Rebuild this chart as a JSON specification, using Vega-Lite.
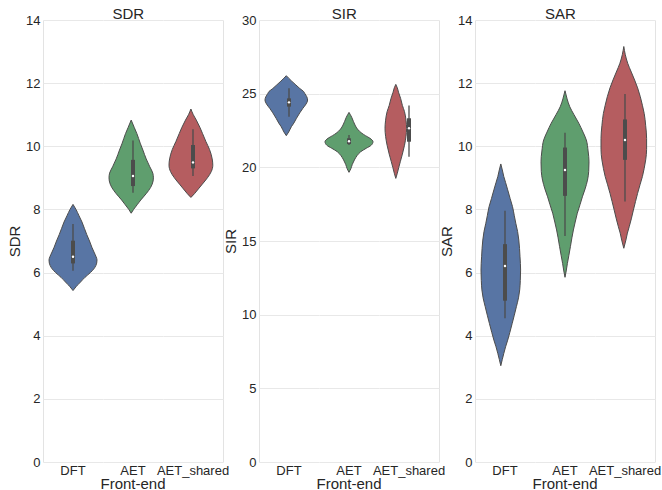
{
  "$schema": "https://vega.github.io/schema/vega-lite/v6.json",
  "background": "white",
  "padding": {"left": 7, "top": 7, "right": 0, "bottom": 0},
  "spacing": -7,
  "data": {"values": [
    {"m":"SDR","g":"DFT","v":5.43,"w":0},{"m":"SDR","g":"DFT","v":5.55,"w":0.1},{"m":"SDR","g":"DFT","v":5.7,"w":0.25},{"m":"SDR","g":"DFT","v":5.85,"w":0.4},{"m":"SDR","g":"DFT","v":6.0,"w":0.58},{"m":"SDR","g":"DFT","v":6.15,"w":0.72},{"m":"SDR","g":"DFT","v":6.3,"w":0.79},{"m":"SDR","g":"DFT","v":6.4,"w":0.8},{"m":"SDR","g":"DFT","v":6.5,"w":0.77},{"m":"SDR","g":"DFT","v":6.65,"w":0.7},{"m":"SDR","g":"DFT","v":6.8,"w":0.63},{"m":"SDR","g":"DFT","v":7.0,"w":0.55},{"m":"SDR","g":"DFT","v":7.2,"w":0.46},{"m":"SDR","g":"DFT","v":7.4,"w":0.38},{"m":"SDR","g":"DFT","v":7.6,"w":0.3},{"m":"SDR","g":"DFT","v":7.8,"w":0.2},{"m":"SDR","g":"DFT","v":8.0,"w":0.1},{"m":"SDR","g":"DFT","v":8.16,"w":0},
    {"m":"SDR","g":"AET","v":7.88,"w":0},{"m":"SDR","g":"AET","v":8.0,"w":0.08},{"m":"SDR","g":"AET","v":8.15,"w":0.2},{"m":"SDR","g":"AET","v":8.3,"w":0.32},{"m":"SDR","g":"AET","v":8.5,"w":0.5},{"m":"SDR","g":"AET","v":8.7,"w":0.65},{"m":"SDR","g":"AET","v":8.9,"w":0.73},{"m":"SDR","g":"AET","v":9.0,"w":0.74},{"m":"SDR","g":"AET","v":9.15,"w":0.72},{"m":"SDR","g":"AET","v":9.35,"w":0.62},{"m":"SDR","g":"AET","v":9.6,"w":0.5},{"m":"SDR","g":"AET","v":9.88,"w":0.39},{"m":"SDR","g":"AET","v":10.1,"w":0.3},{"m":"SDR","g":"AET","v":10.4,"w":0.19},{"m":"SDR","g":"AET","v":10.6,"w":0.1},{"m":"SDR","g":"AET","v":10.83,"w":0},
    {"m":"SDR","g":"AET_shared","v":8.38,"w":0},{"m":"SDR","g":"AET_shared","v":8.5,"w":0.12},{"m":"SDR","g":"AET_shared","v":8.65,"w":0.25},{"m":"SDR","g":"AET_shared","v":8.8,"w":0.38},{"m":"SDR","g":"AET_shared","v":9.0,"w":0.55},{"m":"SDR","g":"AET_shared","v":9.2,"w":0.68},{"m":"SDR","g":"AET_shared","v":9.4,"w":0.73},{"m":"SDR","g":"AET_shared","v":9.6,"w":0.71},{"m":"SDR","g":"AET_shared","v":9.9,"w":0.62},{"m":"SDR","g":"AET_shared","v":10.15,"w":0.5},{"m":"SDR","g":"AET_shared","v":10.4,"w":0.39},{"m":"SDR","g":"AET_shared","v":10.6,"w":0.3},{"m":"SDR","g":"AET_shared","v":10.83,"w":0.18},{"m":"SDR","g":"AET_shared","v":11.0,"w":0.08},{"m":"SDR","g":"AET_shared","v":11.18,"w":0},
    {"m":"SIR","g":"DFT","v":22.15,"w":0},{"m":"SIR","g":"DFT","v":22.4,"w":0.08},{"m":"SIR","g":"DFT","v":22.76,"w":0.17},{"m":"SIR","g":"DFT","v":23.0,"w":0.25},{"m":"SIR","g":"DFT","v":23.33,"w":0.34},{"m":"SIR","g":"DFT","v":23.7,"w":0.45},{"m":"SIR","g":"DFT","v":24.0,"w":0.55},{"m":"SIR","g":"DFT","v":24.3,"w":0.66},{"m":"SIR","g":"DFT","v":24.57,"w":0.71},{"m":"SIR","g":"DFT","v":24.8,"w":0.68},{"m":"SIR","g":"DFT","v":25.0,"w":0.62},{"m":"SIR","g":"DFT","v":25.14,"w":0.58},{"m":"SIR","g":"DFT","v":25.35,"w":0.45},{"m":"SIR","g":"DFT","v":25.59,"w":0.32},{"m":"SIR","g":"DFT","v":25.85,"w":0.18},{"m":"SIR","g":"DFT","v":26.05,"w":0.08},{"m":"SIR","g":"DFT","v":26.22,"w":0},
    {"m":"SIR","g":"AET","v":19.66,"w":0},{"m":"SIR","g":"AET","v":19.9,"w":0.06},{"m":"SIR","g":"AET","v":20.2,"w":0.11},{"m":"SIR","g":"AET","v":20.5,"w":0.18},{"m":"SIR","g":"AET","v":20.8,"w":0.27},{"m":"SIR","g":"AET","v":21.06,"w":0.39},{"m":"SIR","g":"AET","v":21.3,"w":0.58},{"m":"SIR","g":"AET","v":21.5,"w":0.74},{"m":"SIR","g":"AET","v":21.74,"w":0.8},{"m":"SIR","g":"AET","v":21.97,"w":0.7},{"m":"SIR","g":"AET","v":22.15,"w":0.55},{"m":"SIR","g":"AET","v":22.31,"w":0.43},{"m":"SIR","g":"AET","v":22.6,"w":0.28},{"m":"SIR","g":"AET","v":22.87,"w":0.2},{"m":"SIR","g":"AET","v":23.1,"w":0.15},{"m":"SIR","g":"AET","v":23.4,"w":0.09},{"m":"SIR","g":"AET","v":23.73,"w":0},
    {"m":"SIR","g":"AET_shared","v":19.25,"w":0},{"m":"SIR","g":"AET_shared","v":19.6,"w":0.05},{"m":"SIR","g":"AET_shared","v":20.0,"w":0.1},{"m":"SIR","g":"AET_shared","v":20.38,"w":0.15},{"m":"SIR","g":"AET_shared","v":20.9,"w":0.22},{"m":"SIR","g":"AET_shared","v":21.5,"w":0.29},{"m":"SIR","g":"AET_shared","v":22.1,"w":0.34},{"m":"SIR","g":"AET_shared","v":22.65,"w":0.36},{"m":"SIR","g":"AET_shared","v":23.2,"w":0.34},{"m":"SIR","g":"AET_shared","v":23.78,"w":0.29},{"m":"SIR","g":"AET_shared","v":24.2,"w":0.22},{"m":"SIR","g":"AET_shared","v":24.68,"w":0.16},{"m":"SIR","g":"AET_shared","v":25.1,"w":0.09},{"m":"SIR","g":"AET_shared","v":25.4,"w":0.05},{"m":"SIR","g":"AET_shared","v":25.63,"w":0},
    {"m":"SAR","g":"DFT","v":3.05,"w":0},{"m":"SAR","g":"DFT","v":3.25,"w":0.05},{"m":"SAR","g":"DFT","v":3.44,"w":0.1},{"m":"SAR","g":"DFT","v":3.65,"w":0.16},{"m":"SAR","g":"DFT","v":3.86,"w":0.23},{"m":"SAR","g":"DFT","v":4.1,"w":0.3},{"m":"SAR","g":"DFT","v":4.39,"w":0.38},{"m":"SAR","g":"DFT","v":4.65,"w":0.45},{"m":"SAR","g":"DFT","v":4.92,"w":0.52},{"m":"SAR","g":"DFT","v":5.2,"w":0.59},{"m":"SAR","g":"DFT","v":5.45,"w":0.63},{"m":"SAR","g":"DFT","v":5.75,"w":0.65},{"m":"SAR","g":"DFT","v":6.08,"w":0.66},{"m":"SAR","g":"DFT","v":6.5,"w":0.64},{"m":"SAR","g":"DFT","v":7.03,"w":0.6},{"m":"SAR","g":"DFT","v":7.3,"w":0.56},{"m":"SAR","g":"DFT","v":7.56,"w":0.5},{"m":"SAR","g":"DFT","v":7.8,"w":0.45},{"m":"SAR","g":"DFT","v":8.09,"w":0.39},{"m":"SAR","g":"DFT","v":8.35,"w":0.31},{"m":"SAR","g":"DFT","v":8.62,"w":0.23},{"m":"SAR","g":"DFT","v":8.85,"w":0.16},{"m":"SAR","g":"DFT","v":9.04,"w":0.1},{"m":"SAR","g":"DFT","v":9.25,"w":0.05},{"m":"SAR","g":"DFT","v":9.44,"w":0},
    {"m":"SAR","g":"AET","v":5.85,"w":0},{"m":"SAR","g":"AET","v":6.05,"w":0.04},{"m":"SAR","g":"AET","v":6.29,"w":0.08},{"m":"SAR","g":"AET","v":6.55,"w":0.13},{"m":"SAR","g":"AET","v":6.82,"w":0.18},{"m":"SAR","g":"AET","v":7.1,"w":0.23},{"m":"SAR","g":"AET","v":7.35,"w":0.28},{"m":"SAR","g":"AET","v":7.6,"w":0.34},{"m":"SAR","g":"AET","v":7.88,"w":0.41},{"m":"SAR","g":"AET","v":8.15,"w":0.5},{"m":"SAR","g":"AET","v":8.4,"w":0.58},{"m":"SAR","g":"AET","v":8.65,"w":0.67},{"m":"SAR","g":"AET","v":8.93,"w":0.75},{"m":"SAR","g":"AET","v":9.2,"w":0.79},{"m":"SAR","g":"AET","v":9.51,"w":0.8},{"m":"SAR","g":"AET","v":9.85,"w":0.77},{"m":"SAR","g":"AET","v":10.2,"w":0.71},{"m":"SAR","g":"AET","v":10.45,"w":0.6},{"m":"SAR","g":"AET","v":10.73,"w":0.46},{"m":"SAR","g":"AET","v":11.0,"w":0.3},{"m":"SAR","g":"AET","v":11.25,"w":0.16},{"m":"SAR","g":"AET","v":11.5,"w":0.07},{"m":"SAR","g":"AET","v":11.76,"w":0},
    {"m":"SAR","g":"AET_shared","v":6.77,"w":0},{"m":"SAR","g":"AET_shared","v":7.03,"w":0.07},{"m":"SAR","g":"AET_shared","v":7.25,"w":0.12},{"m":"SAR","g":"AET_shared","v":7.45,"w":0.18},{"m":"SAR","g":"AET_shared","v":7.7,"w":0.25},{"m":"SAR","g":"AET_shared","v":7.98,"w":0.32},{"m":"SAR","g":"AET_shared","v":8.25,"w":0.39},{"m":"SAR","g":"AET_shared","v":8.51,"w":0.46},{"m":"SAR","g":"AET_shared","v":8.78,"w":0.54},{"m":"SAR","g":"AET_shared","v":9.04,"w":0.62},{"m":"SAR","g":"AET_shared","v":9.3,"w":0.68},{"m":"SAR","g":"AET_shared","v":9.57,"w":0.73},{"m":"SAR","g":"AET_shared","v":9.9,"w":0.76},{"m":"SAR","g":"AET_shared","v":10.25,"w":0.76},{"m":"SAR","g":"AET_shared","v":10.65,"w":0.73},{"m":"SAR","g":"AET_shared","v":11.04,"w":0.68},{"m":"SAR","g":"AET_shared","v":11.3,"w":0.62},{"m":"SAR","g":"AET_shared","v":11.57,"w":0.55},{"m":"SAR","g":"AET_shared","v":11.85,"w":0.46},{"m":"SAR","g":"AET_shared","v":12.1,"w":0.36},{"m":"SAR","g":"AET_shared","v":12.35,"w":0.25},{"m":"SAR","g":"AET_shared","v":12.63,"w":0.13},{"m":"SAR","g":"AET_shared","v":12.9,"w":0.05},{"m":"SAR","g":"AET_shared","v":13.16,"w":0},
    {"m":"SDR","g":"DFT","lo":6.06,"q1":6.29,"med":6.5,"q3":7.01,"hi":7.54},
    {"m":"SDR","g":"AET","lo":8.53,"q1":8.74,"med":9.06,"q3":9.57,"hi":10.18},
    {"m":"SDR","g":"AET_shared","lo":9.06,"q1":9.3,"med":9.49,"q3":10.04,"hi":10.54},
    {"m":"SIR","g":"DFT","lo":23.44,"q1":24.12,"med":24.41,"q3":24.68,"hi":25.36},
    {"m":"SIR","g":"AET","lo":21.52,"q1":21.58,"med":21.77,"q3":21.97,"hi":22.19},
    {"m":"SIR","g":"AET_shared","lo":20.72,"q1":21.74,"med":22.65,"q3":23.33,"hi":24.19},
    {"m":"SAR","g":"DFT","lo":4.55,"q1":5.11,"med":6.21,"q3":6.9,"hi":7.96},
    {"m":"SAR","g":"AET","lo":7.16,"q1":8.43,"med":9.25,"q3":9.96,"hi":10.43},
    {"m":"SAR","g":"AET_shared","lo":8.25,"q1":9.57,"med":10.2,"q3":10.85,"hi":11.66}
  ]},
  "hconcat": [
    {
      "title": {"text": "SDR"},
      "transform": [{"filter": {"field": "m", "equal": "SDR"}}],
      "facet": {"column": {"field": "g", "type": "nominal", "sort": ["DFT", "AET", "AET_shared"], "title": "Front-end"}},
      "spacing": {"column": 0},
      "spec": {
        "width": 60, "height": 442,
        "layer": [
          {"transform": [{"filter": {"field": "w", "valid": true}}],
           "mark": {"type": "area", "orient": "horizontal", "interpolate": "monotone", "stroke": "#4c4c4c", "strokeWidth": 1},
           "encoding": {
             "y": {"field": "v", "type": "quantitative", "scale": {"domain": [0, 14], "nice": false}, "axis": {"title": "SDR", "values": [0, 2, 4, 6, 8, 10, 12, 14]}},
             "x": {"field": "w", "type": "quantitative", "stack": "center", "impute": null, "scale": {"domain": [-0.1, 0.9]}, "axis": null},
             "fill": {"field": "g", "type": "nominal", "scale": {"domain": ["DFT", "AET", "AET_shared"], "range": ["#5875a4", "#5f9e6e", "#b55d60"]}, "legend": null}
           }},
          {"transform": [{"filter": {"field": "lo", "valid": true}}],
           "mark": {"type": "rule", "color": "#4c4c4c", "strokeWidth": 1.3},
           "encoding": {"x": {"datum": 0.4, "type": "quantitative"}, "y": {"field": "lo", "type": "quantitative", "axis": {"orient": "right", "labels": false, "grid": false, "title": null}}, "y2": {"field": "hi"}}},
          {"transform": [{"filter": {"field": "lo", "valid": true}}],
           "mark": {"type": "rule", "color": "#4c4c4c", "strokeWidth": 4},
           "encoding": {"x": {"datum": 0.4, "type": "quantitative"}, "y": {"field": "q1", "type": "quantitative", "axis": null}, "y2": {"field": "q3"}}},
          {"transform": [{"filter": {"field": "lo", "valid": true}}],
           "mark": {"type": "point", "filled": true, "color": "white", "size": 6, "opacity": 1},
           "encoding": {"x": {"datum": 0.4, "type": "quantitative"}, "y": {"field": "med", "type": "quantitative", "axis": null}}}
        ],
        "resolve": {"axis": {"y": "independent"}}
      }
    },
    {
      "title": {"text": "SIR"},
      "transform": [{"filter": {"field": "m", "equal": "SIR"}}],
      "facet": {"column": {"field": "g", "type": "nominal", "sort": ["DFT", "AET", "AET_shared"], "title": "Front-end"}},
      "spacing": {"column": 0},
      "spec": {
        "width": 60, "height": 442,
        "layer": [
          {"transform": [{"filter": {"field": "w", "valid": true}}],
           "mark": {"type": "area", "orient": "horizontal", "interpolate": "monotone", "stroke": "#4c4c4c", "strokeWidth": 1},
           "encoding": {
             "y": {"field": "v", "type": "quantitative", "scale": {"domain": [0, 30], "nice": false}, "axis": {"title": "SIR", "values": [0, 5, 10, 15, 20, 25, 30]}},
             "x": {"field": "w", "type": "quantitative", "stack": "center", "impute": null, "scale": {"domain": [-0.1, 0.9]}, "axis": null},
             "fill": {"field": "g", "type": "nominal", "scale": {"domain": ["DFT", "AET", "AET_shared"], "range": ["#5875a4", "#5f9e6e", "#b55d60"]}, "legend": null}
           }},
          {"transform": [{"filter": {"field": "lo", "valid": true}}],
           "mark": {"type": "rule", "color": "#4c4c4c", "strokeWidth": 1.3},
           "encoding": {"x": {"datum": 0.4, "type": "quantitative"}, "y": {"field": "lo", "type": "quantitative", "axis": {"orient": "right", "labels": false, "grid": false, "title": null}}, "y2": {"field": "hi"}}},
          {"transform": [{"filter": {"field": "lo", "valid": true}}],
           "mark": {"type": "rule", "color": "#4c4c4c", "strokeWidth": 4},
           "encoding": {"x": {"datum": 0.4, "type": "quantitative"}, "y": {"field": "q1", "type": "quantitative", "axis": null}, "y2": {"field": "q3"}}},
          {"transform": [{"filter": {"field": "lo", "valid": true}}],
           "mark": {"type": "point", "filled": true, "color": "white", "size": 6, "opacity": 1},
           "encoding": {"x": {"datum": 0.4, "type": "quantitative"}, "y": {"field": "med", "type": "quantitative", "axis": null}}}
        ],
        "resolve": {"axis": {"y": "independent"}}
      }
    },
    {
      "title": {"text": "SAR"},
      "transform": [{"filter": {"field": "m", "equal": "SAR"}}],
      "facet": {"column": {"field": "g", "type": "nominal", "sort": ["DFT", "AET", "AET_shared"], "title": "Front-end"}},
      "spacing": {"column": 0},
      "spec": {
        "width": 60, "height": 442,
        "layer": [
          {"transform": [{"filter": {"field": "w", "valid": true}}],
           "mark": {"type": "area", "orient": "horizontal", "interpolate": "monotone", "stroke": "#4c4c4c", "strokeWidth": 1},
           "encoding": {
             "y": {"field": "v", "type": "quantitative", "scale": {"domain": [0, 14], "nice": false}, "axis": {"title": "SAR", "values": [0, 2, 4, 6, 8, 10, 12, 14]}},
             "x": {"field": "w", "type": "quantitative", "stack": "center", "impute": null, "scale": {"domain": [-0.1, 0.9]}, "axis": null},
             "fill": {"field": "g", "type": "nominal", "scale": {"domain": ["DFT", "AET", "AET_shared"], "range": ["#5875a4", "#5f9e6e", "#b55d60"]}, "legend": null}
           }},
          {"transform": [{"filter": {"field": "lo", "valid": true}}],
           "mark": {"type": "rule", "color": "#4c4c4c", "strokeWidth": 1.3},
           "encoding": {"x": {"datum": 0.4, "type": "quantitative"}, "y": {"field": "lo", "type": "quantitative", "axis": {"orient": "right", "labels": false, "grid": false, "title": null}}, "y2": {"field": "hi"}}},
          {"transform": [{"filter": {"field": "lo", "valid": true}}],
           "mark": {"type": "rule", "color": "#4c4c4c", "strokeWidth": 4},
           "encoding": {"x": {"datum": 0.4, "type": "quantitative"}, "y": {"field": "q1", "type": "quantitative", "axis": null}, "y2": {"field": "q3"}}},
          {"transform": [{"filter": {"field": "lo", "valid": true}}],
           "mark": {"type": "point", "filled": true, "color": "white", "size": 6, "opacity": 1},
           "encoding": {"x": {"datum": 0.4, "type": "quantitative"}, "y": {"field": "med", "type": "quantitative", "axis": null}}}
        ],
        "resolve": {"axis": {"y": "independent"}}
      }
    }
  ],
  "config": {
    "font": "Liberation Sans",
    "view": {"stroke": null},
    "axis": {"labelFontSize": 13, "labelColor": "#262626", "titleFontSize": 15, "titleColor": "#262626", "titleFontWeight": "normal", "gridColor": "#e8e8e8", "domainColor": "#e3e3e3", "ticks": false, "labelPadding": 3, "titlePadding": 3},
    "header": {"labelOrient": "bottom", "titleOrient": "bottom", "labelFontSize": 13, "titleFontSize": 15, "labelColor": "#262626", "titleColor": "#262626", "titleFontWeight": "normal", "labelPadding": 3, "titlePadding": -11, "titleLineHeight": 15},
    "title": {"fontSize": 15, "fontWeight": "normal", "color": "#262626", "offset": -1, "dy": 7, "dx": 10, "anchor": "middle"}
  }
}
